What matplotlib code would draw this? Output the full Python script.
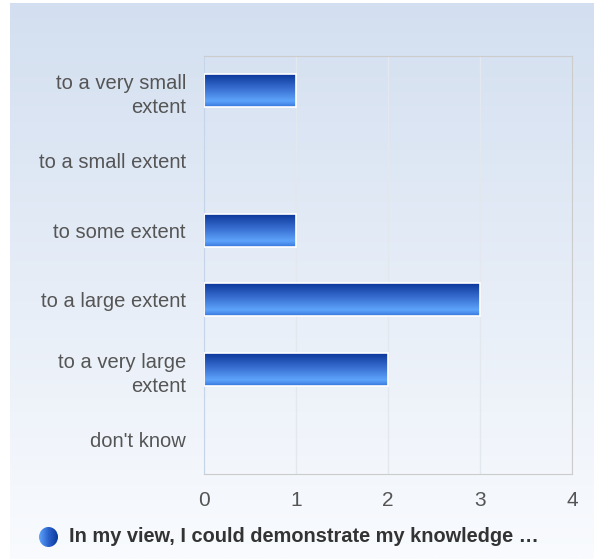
import matplotlib
matplotlib.use("Agg")
import matplotlib.pyplot as plt
import numpy as np
from matplotlib.colors import LinearSegmentedColormap
from matplotlib.patches import Circle

plt.rcParams['font.family'] = ['Liberation Sans', 'DejaVu Sans']

categories = ["to a very small\nextent", "to a small extent", "to some extent",
              "to a large extent", "to a very large\nextent", "don't know"]
values = [1, 0, 1, 3, 2, 0]
xticks = [0, 1, 2, 3, 4]
legend_label = "In my view, I could demonstrate my knowledge \u2026"

W, H = 595, 559
fig = plt.figure(figsize=(W / 100, H / 100), dpi=100)
fig.patch.set_facecolor("white")

# background panel with vertical gradient
bg = fig.add_axes([10 / W, 0, 584 / W, 556 / H], zorder=-10)
bg_cmap = LinearSegmentedColormap.from_list("bg", ["#f9fbfe", "#d3dff0"])
bg.imshow(np.linspace(0, 1, 256).reshape(-1, 1), aspect="auto", cmap=bg_cmap,
          origin="lower", extent=[0, 1, 0, 1])
bg.set_axis_off()

ax = fig.add_axes([204 / W, 1 - 474 / H, 368 / W, 418 / H])
ax.patch.set_alpha(0)

y = np.arange(len(categories))
bars = ax.barh(y, values, height=0.47, color="none", edgecolor="white",
               linewidth=1.2, zorder=3)

bar_cmap = LinearSegmentedColormap.from_list(
    "bar", [(0.0, "#3877dc"), (0.18, "#5ea4fb"), (0.55, "#3a70d2"), (1.0, "#0b389a")])
grad = np.linspace(0, 1, 100).reshape(-1, 1)
for b in bars:
    if b.get_width() <= 0:
        b.set_linewidth(0)
        continue
    x0, y0 = b.get_x(), b.get_y()
    ax.imshow(grad, aspect="auto", cmap=bar_cmap, origin="upper",
              extent=[x0, x0 + b.get_width(), y0, y0 + b.get_height()], zorder=2)

ax.set_xlim(0, 4)
ax.set_ylim(len(categories) - 0.5, -0.5)
ax.set_xticks(xticks)
ax.set_xticklabels([str(t) for t in xticks], fontsize=15, color="#555555")
ax.set_yticks(y)
ax.set_yticklabels(categories, fontsize=14.5, color="#555555", ha="right",
                   multialignment="right", linespacing=1.35)
ax.tick_params(axis="both", length=0)
ax.tick_params(axis="y", pad=13)
ax.tick_params(axis="x", pad=12)
ax.grid(axis="x", color="#e3e7ee", linewidth=1, zorder=0)
ax.set_axisbelow(True)
for s in ["top", "right", "bottom"]:
    ax.spines[s].set_color("#cccccc")
ax.spines["left"].set_color("#c6d4ea")
ax.set_aspect("auto")

# legend
lax = fig.add_axes([39 / W, 1 - 547 / H, 19 / W, 20 / H])
lax.set_axis_off()
circ_cmap = LinearSegmentedColormap.from_list("circ", ["#5ea4fb", "#2a62cc", "#0b389a"])
im = lax.imshow(np.linspace(0, 1, 100).reshape(1, -1), aspect="auto", cmap=circ_cmap,
                extent=[0, 1, 0, 1])
c = Circle((0.5, 0.5), 0.5, transform=lax.transData)
im.set_clip_path(c)
lax.set_xlim(0, 1)
lax.set_ylim(0, 1)
fig.text(69 / W, 1 - 537 / H, legend_label, fontsize=14.4, fontweight="bold",
         color="#333333", va="center", ha="left")

fig.savefig("out.png", dpi=100)
